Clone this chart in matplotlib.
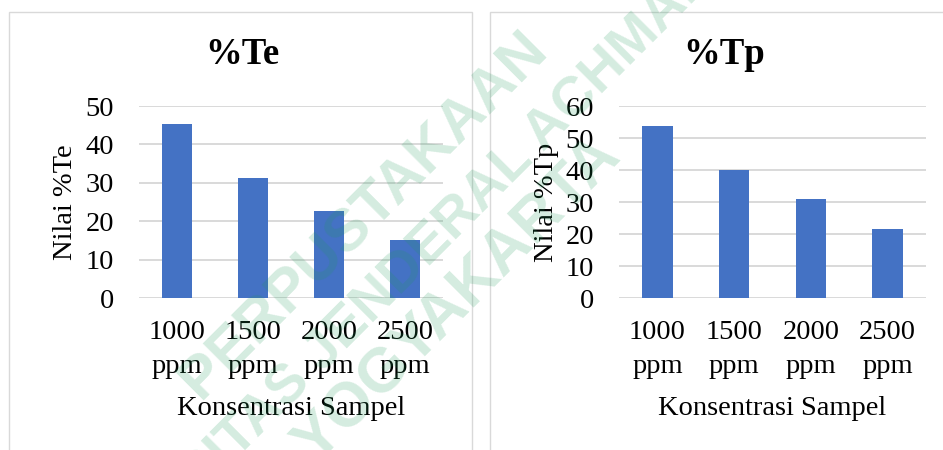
import matplotlib
matplotlib.use("Agg")
import matplotlib.pyplot as plt
from matplotlib.patches import Rectangle

plt.rcParams["font.family"] = ["Liberation Serif", "DejaVu Serif"]

# Data
categories = ["1000 ppm", "1500 ppm", "2000 ppm", "2500 ppm"]
tick_labels = ["1000\nppm", "1500\nppm", "2000\nppm", "2500\nppm"]
te_values = [45.3, 31.2, 22.6, 15.0]
tp_values = [53.7, 40.0, 30.8, 21.6]
te_ticks = [0, 10, 20, 30, 40, 50]
tp_ticks = [0, 10, 20, 30, 40, 50, 60]

W, H = 943, 450
fig = plt.figure(figsize=(W / 100, H / 100), dpi=100)


def fx(px):
    return px / W


def fy(py):
    return 1 - py / H


BAR = "#4472C4"
GRID = "#d9d9d9"
FS = 20.5


def panel(x0, x1, title, title_x, values, yticks, ylabel, ylabel_x):
    ax = fig.add_axes([fx(x0), fy(298), fx(x1) - fx(x0), fy(106) - fy(298)])
    pos = list(range(len(categories)))
    ax.bar(pos, values, width=0.4, color=BAR, zorder=3)
    ax.set_xlim(-0.5, len(categories) - 0.5)
    ax.set_ylim(yticks[0], yticks[-1])
    ax.set_yticks(yticks)
    ax.set_xticks(pos)
    ax.set_xticklabels(tick_labels, linespacing=1.45)
    for s in ax.spines.values():
        s.set_visible(False)
    ax.grid(axis="y", color=GRID, linewidth=1.4, zorder=0)
    ax.set_axisbelow(True)
    ax.tick_params(axis="x", length=0, pad=16, labelsize=FS)
    ax.tick_params(axis="y", length=0, pad=18, labelsize=FS)
    ax.set_xlabel("Konsentrasi Sampel", fontsize=FS)
    ax.xaxis.set_label_coords(0.5, -0.51)
    ax.set_ylabel(ylabel, fontsize=FS)
    ax.yaxis.set_label_coords((ylabel_x - x0) / (x1 - x0), 0.5)
    fig.text(fx(title_x), fy(55), title, fontsize=26.5, fontweight="bold",
             ha="center", va="center")
    return ax


panel(139, 443, "%Te", 242, te_values, te_ticks, "Nilai %Te", 78)
panel(619, 926, "%Tp", 724, tp_values, tp_ticks, "Nilai %Tp", 559)

# Chart area borders
fig.add_artist(Rectangle((fx(9), -0.05), fx(472) - fx(9), fy(12) + 0.05,
                         transform=fig.transFigure, fill=False, ec=GRID, lw=1.0))
fig.add_artist(Rectangle((fx(490), -0.05), 0.6, fy(12) + 0.05,
                         transform=fig.transFigure, fill=False, ec=GRID, lw=1.0))

# Library watermark
wm_style = dict(fontweight="bold", family="Liberation Sans", rotation=45,
                color="#1f9a5a", alpha=0.19, rotation_mode="anchor",
                ha="center", va="center", zorder=10)
fig.text(fx(364), fy(215), "PERPUSTAKAAN", fontsize=43, **wm_style)
fig.text(fx(425), fy(251), "UNIVERSITAS JENDERAL ACHMAD YANI", fontsize=40, **wm_style)
fig.text(fx(458), fy(300), "YOGYAKARTA", fontsize=45, **wm_style)

fig.savefig("out.png", dpi=100)
